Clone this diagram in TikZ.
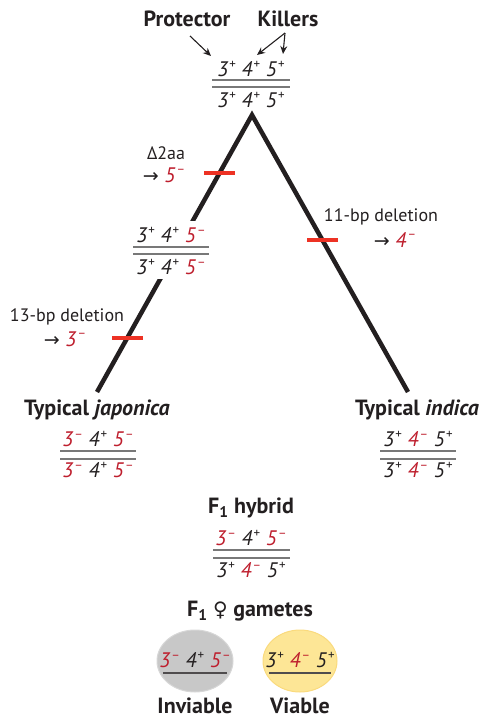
\documentclass[tikz,border=0pt]{standalone}
\usepackage{fontspec}
\setmainfont{PT Sans}
\newfontfamily\symfont{DejaVu Sans}
\usetikzlibrary{arrows.meta,shapes.geometric}
\definecolor{txt}{RGB}{35,31,32}
\definecolor{allred}{RGB}{190,30,45}
\definecolor{barred}{RGB}{237,50,36}
\definecolor{chromo}{RGB}{120,120,120}
\definecolor{grayfill}{RGB}{200,200,200}
\definecolor{grayedge}{RGB}{215,215,215}
\definecolor{yelfill}{RGB}{253,230,150}
\definecolor{yeledge}{RGB}{250,218,125}
\newcommand{\ap}[1]{\textit{#1}\kern1pt\raisebox{0.42em}{\fontsize{13}{13}\selectfont +}}
\newcommand{\am}[1]{\textcolor{allred}{\textit{#1}\kern1pt\raisebox{0.42em}{\fontsize{13}{13}\selectfont –}}}
\newcommand{\arr}{{\symfont\fontsize{19}{19}\selectfont →}}
\tikzset{
  lbl/.style={font=\fontsize{22}{24}\selectfont\bfseries, text=txt, inner sep=0pt},
  geno/.style={font=\fontsize{21}{23}\selectfont, text=txt, inner sep=0pt},
  note/.style={font=\fontsize{18}{20}\selectfont, text=txt, inner sep=0pt},
  chrom/.style={draw=chromo, line width=1.6pt},
  branch/.style={draw=txt, line width=4.5pt, line join=miter},
  mutbar/.style={draw=barred, line width=4.5pt},
  ptr/.style={draw=txt, line width=1.1pt, -{Stealth[length=8pt,width=7pt]}}
}
\begin{document}
\begin{tikzpicture}[x=1pt,y=-1pt]
\useasboundingbox (0,0) rectangle (482,723);
% header
\node[lbl] (prot) at (187,19) {Protector};
\node[lbl] (kill) at (288,19) {Killers};
\coordinate (kapex) at (285,33);
\coordinate (pstart) at (190,36);
\coordinate (pend) at (211,56);
\coordinate (k1) at (257,55);
\coordinate (k2) at (283,54);
\draw[ptr] (pstart) -- (pend);
\draw[ptr] (kapex) -- (k1);
\draw[ptr] (kapex) -- (k2);
% top genotype
\node[geno] (gt1) at (251,69) {\ap{3} \ap{4} \ap{5}};
\node[geno] (gt2) at (251,100) {\ap{3} \ap{4} \ap{5}};
\draw[chrom] (212,80) -- (290,80);
\draw[chrom] (212,87) -- (290,87);
% branches
\coordinate (apex) at (252,115);
\coordinate (jend) at (97,392);
\coordinate (iend) at (408,392);
\draw[branch] (jend) -- (apex) -- (iend);
% mutation bars
\draw[mutbar] (204,173) -- (235,173);
\draw[mutbar] (307,240) -- (338,240);
\draw[mutbar] (112,338) -- (143,338);
% notes
\node[note] (d2) at (166,153) {Δ2aa};
\node[geno] (d2b) at (164,175) {\arr\ \am{5}};
\node[note] (n11) at (381,217) {11-bp deletion};
\node[geno] (n11b) at (395,240) {\arr\ \am{4}};
\node[note] (n13) at (67,317) {13-bp deletion};
\node[geno] (n13b) at (65,339) {\arr\ \am{3}};
% middle genotype
\fill[white] (128,221) rectangle (214,279);
\node[geno] (gm1) at (171,235) {\ap{3} \ap{4} \am{5}};
\node[geno] (gm2) at (171,267) {\ap{3} \ap{4} \am{5}};
\draw[chrom] (133,247) -- (209,247);
\draw[chrom] (133,254) -- (209,254);
% japonica
\node[lbl] (jap) at (97,410) {Typical \textit{japonica}};
\node[geno] (gj1) at (98,439) {\am{3} \ap{4} \am{5}};
\node[geno] (gj2) at (98,470) {\am{3} \ap{4} \am{5}};
\draw[chrom] (60,451) -- (136,451);
\draw[chrom] (60,459) -- (136,459);
% indica
\node[lbl] (ind) at (417,410) {Typical \textit{indica}};
\node[geno] (gi1) at (418,439) {\ap{3} \am{4} \ap{5}};
\node[geno] (gi2) at (418,470) {\ap{3} \am{4} \ap{5}};
\draw[chrom] (380,451) -- (456,451);
\draw[chrom] (380,459) -- (456,459);
% F1 hybrid
\node[lbl] (f1) at (251,508) {F\textsubscript{1} hybrid};
\node[geno] (gf1) at (251,538) {\am{3} \ap{4} \am{5}};
\node[geno] (gf2) at (251,570) {\ap{3} \am{4} \ap{5}};
\draw[chrom] (213,550) -- (290,550);
\draw[chrom] (213,558) -- (290,558);
% gametes
\node[lbl] (gam) at (250,611) {F\textsubscript{1} {\symfont\bfseries\fontsize{20}{22}\selectfont ♀} gametes};
\node[draw=grayedge, fill=grayfill, line width=1pt, ellipse, minimum width=76pt, minimum height=62pt, inner sep=0pt] (e1) at (195,661) {};
\node[draw=yeledge, fill=yelfill, line width=1pt, ellipse, minimum width=74pt, minimum height=62pt, inner sep=0pt] (e2) at (300,661) {};
\node[geno] (ge1) at (195,660) {\am{3} \ap{4} \am{5}};
\node[geno] (ge2) at (300,660) {\ap{3} \am{4} \ap{5}};
\draw[chrom, draw=txt!80] (163,673) -- (227,673);
\draw[chrom, draw=txt!80] (269,673) -- (331,673);
\node[lbl] (inv) at (195,706) {Inviable};
\node[lbl] (via) at (300,706) {Viable};
\end{tikzpicture}
\end{document}
